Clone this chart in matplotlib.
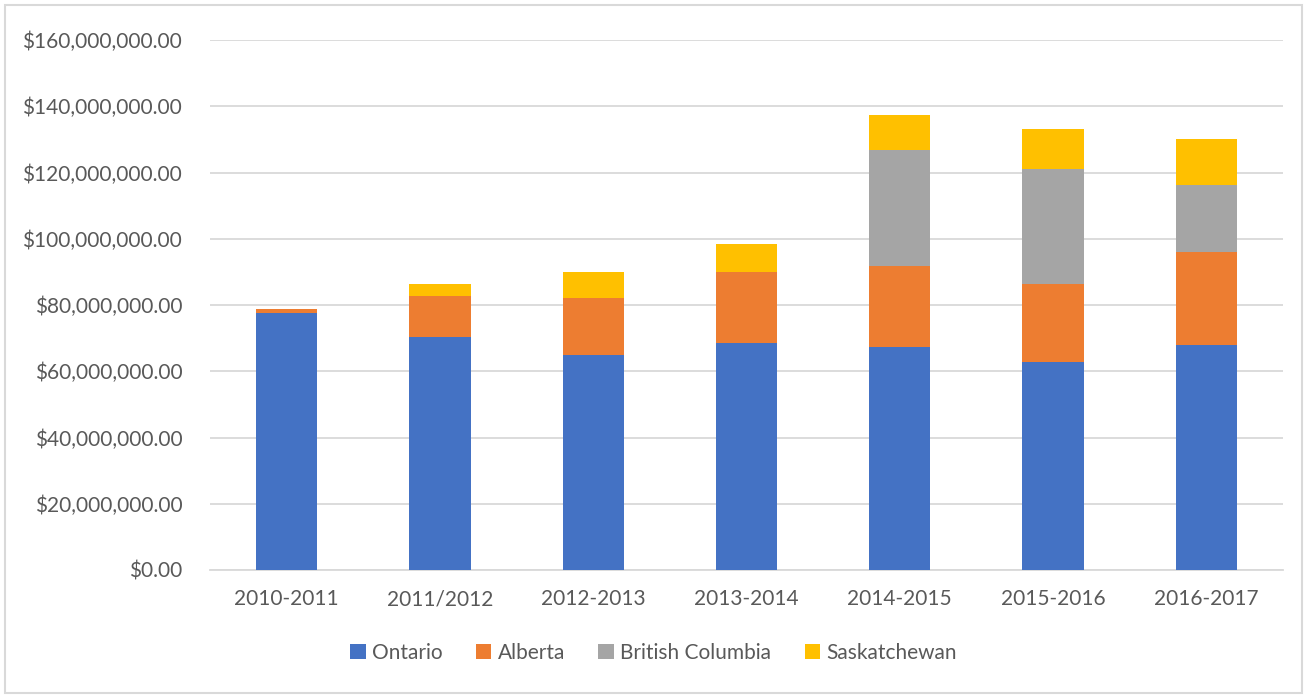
import matplotlib
matplotlib.use("Agg")
import matplotlib.pyplot as plt
from matplotlib.patches import Rectangle
from matplotlib.ticker import FuncFormatter
import numpy as np

# Data (millions of dollars)
years = ["2010-2011", "2011/2012", "2012-2013", "2013-2014", "2014-2015", "2015-2016", "2016-2017"]
ontario = [77.5, 70.2, 64.8, 68.6, 67.2, 62.8, 67.8]
alberta = [1.3, 12.5, 17.4, 21.5, 24.5, 23.6, 28.1]
british_columbia = [0, 0, 0, 0, 35.2, 34.8, 20.4]
saskatchewan = [0, 3.5, 7.7, 8.3, 10.4, 11.9, 13.8]

series = [
    ("Ontario", ontario, "#4472C4"),
    ("Alberta", alberta, "#ED7D31"),
    ("British Columbia", british_columbia, "#A5A5A5"),
    ("Saskatchewan", saskatchewan, "#FFC000"),
]

plt.rcParams["font.family"] = ["Lato", "DejaVu Sans"]
text_color = "#595959"

fig = plt.figure(figsize=(13.07, 6.98), dpi=100)
ax = fig.add_axes([210 / 1307, 1 - 570 / 698, (1283 - 210) / 1307, (570 - 40) / 698])

x = np.arange(len(years))
bottom = np.zeros(len(years))
for name, vals, color in series:
    v = np.array(vals) * 1e6
    ax.bar(x, v, width=0.40, bottom=bottom, color=color, label=name, zorder=3)
    bottom += v

ax.set_xlim(-0.5, len(years) - 0.5)
ax.set_ylim(0, 160e6)
ax.set_yticks(np.arange(0, 160e6 + 1, 20e6))
ax.yaxis.set_major_formatter(FuncFormatter(lambda v, p: f"${v:,.2f}"))
ax.set_xticks(x)
ax.set_xticklabels(years)

ax.grid(axis="y", color="#D9D9D9", linewidth=1.3, zorder=0)
for s in ["top", "right", "left"]:
    ax.spines[s].set_visible(False)
ax.spines["bottom"].set_color("#D9D9D9")
ax.spines["bottom"].set_linewidth(1.3)
ax.tick_params(axis="both", length=0, labelsize=15, colors=text_color)
ax.tick_params(axis="y", pad=20)
ax.tick_params(axis="x", pad=14)

leg = fig.legend(loc="center", bbox_to_anchor=(0.5, 1 - 653 / 698), ncol=4, frameon=False,
                 fontsize=15, handlelength=0.75, handleheight=0.75, handletextpad=0.3,
                 columnspacing=1.6)
for t in leg.get_texts():
    t.set_color(text_color)

# outer chart border
fig.patches.append(Rectangle((5 / 1307, 5 / 698), 1 - 10 / 1307, 1 - 10 / 698,
                             transform=fig.transFigure, fill=False,
                             edgecolor="#D9D9D9", linewidth=1.5))

fig.savefig("out.png", dpi=100)
